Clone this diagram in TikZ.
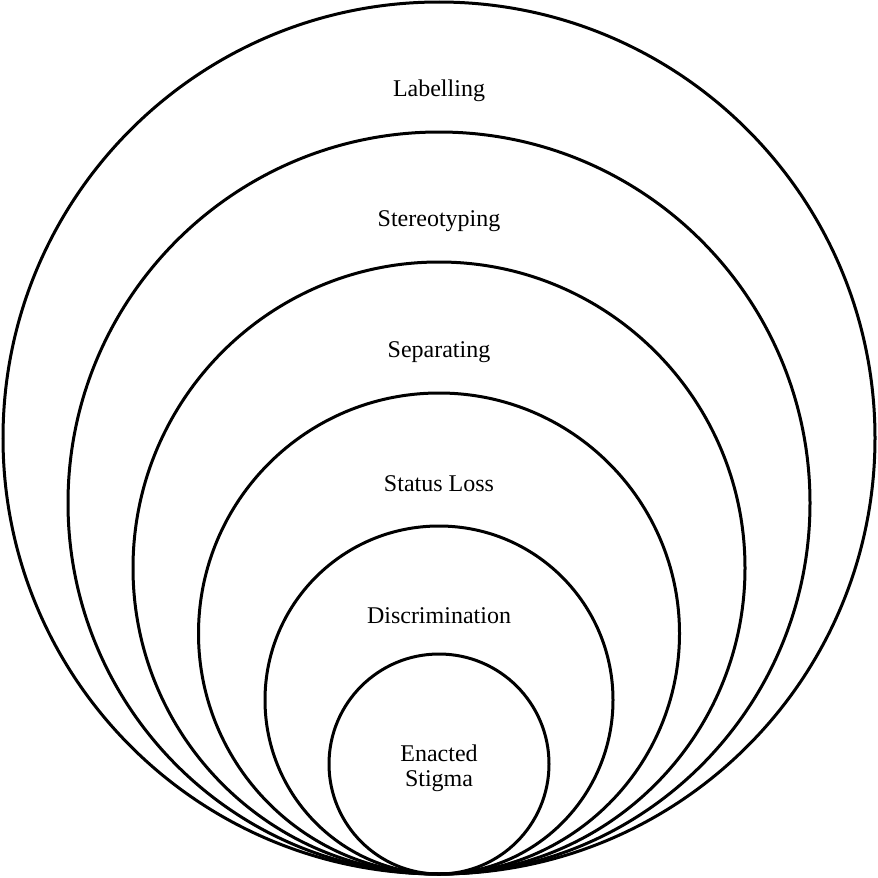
\documentclass[tikz,border=0pt]{standalone}
\usepackage{fontspec}
\setmainfont{Liberation Serif}
\begin{document}
\begin{tikzpicture}[x=1pt,y=-1pt,
  ring/.style={draw=black,line width=3pt},
  lbl/.style={font=\fontsize{24}{25}\selectfont,align=center,inner sep=0pt}]
\useasboundingbox (0,0) rectangle (878,878);
\coordinate (base) at (439,874);
\foreach \r in {436,371,306,240.5,174,110}{
  \draw[ring] (439,874-\r) circle[radius=\r];
}
\node[lbl] (l1) at (439,91) {Labelling};
\node[lbl] (l2) at (439,221) {Stereotyping};
\node[lbl] (l3) at (439,352) {Separating};
\node[lbl] (l4) at (439,484) {Status Loss};
\node[lbl] (l5) at (439,616) {Discrimination};
\node[lbl] (l6) at (439,768) {Enacted\\Stigma};
\end{tikzpicture}
\end{document}
